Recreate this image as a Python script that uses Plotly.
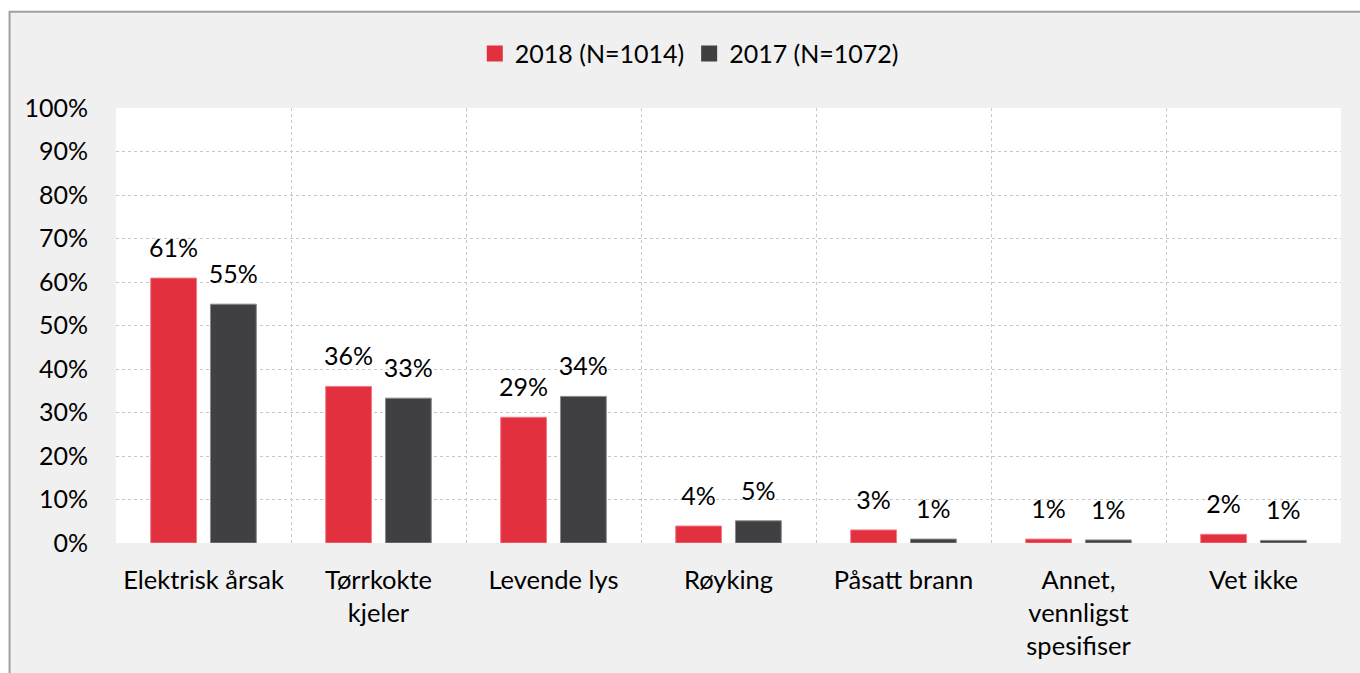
import plotly.graph_objects as go

categories = ["Elektrisk årsak", "Tørrkokte<br>kjeler", "Levende lys", "Røyking",
              "Påsatt brann", "Annet,<br>vennligst<br>spesifiser", "Vet ikke"]
series_names = ["2018 (N=1014)", "2017 (N=1072)"]
values_2018 = [60.9, 36.0, 28.9, 3.9, 3.0, 0.9, 2.0]
values_2017 = [54.9, 33.3, 33.7, 5.1, 0.9, 0.7, 0.6]
y_ticks = list(range(0, 101, 10))
y_tick_labels = [f"{t}%" for t in y_ticks]

RED = "#e3303e"
DARK = "#404042"
FONT = "Lato"
FS = 25

series = [(series_names[0], values_2018, RED, "#ef7c86", "g2018"),
          (series_names[1], values_2017, DARK, "#8a8a8c", "g2017")]

fig = go.Figure()
for name, vals, col, lc, grp in series:
    fig.add_trace(go.Bar(x=categories, y=vals, name=name, offsetgroup=grp,
                         marker=dict(color=col, line=dict(color=lc, width=1)),
                         showlegend=False, hoverinfo="skip"))
for name, vals, col, lc, grp in series:
    fig.add_trace(go.Scatter(x=categories, y=vals, mode="markers+text", offsetgroup=grp,
                             text=[f"{round(v):.0f}%" for v in vals],
                             textposition="top center",
                             textfont=dict(family=FONT, size=FS, color="#000000"),
                             marker=dict(size=22, opacity=0),
                             showlegend=False, hoverinfo="skip", cliponaxis=False))
# legend entries (square swatches)
for name, vals, col, lc, grp in series:
    fig.add_trace(go.Scatter(x=[categories[0]], y=[None], mode="markers", name=name,
                             offsetgroup=grp,
                             marker=dict(symbol="square", size=16, color=col),
                             showlegend=True, hoverinfo="skip"))

fig.update_layout(
    width=1360, height=673,
    margin=dict(l=115.5, r=18.5, t=107.5, b=129.7),
    paper_bgcolor="#ffffff",
    plot_bgcolor="#ffffff",
    barmode="group", bargap=0.317, bargroupgap=0.233,
    scattermode="group", scattergap=0.317,
    font=dict(family=FONT, size=FS, color="#000000"),
    showlegend=True,
    legend=dict(orientation="h", x=0.468, xanchor="center", y=1.125, yanchor="middle",
                font=dict(family=FONT, size=FS, color="#000000"),
                bgcolor="rgba(0,0,0,0)", traceorder="normal", itemsizing="trace"),
    shapes=[
        dict(type="rect", xref="paper", yref="paper", x0=-0.0869, x1=1.05, y0=-0.4, y1=1.2214,
             line=dict(color="#a0a0a0", width=2), fillcolor="#f0f0f0", layer="below"),
        dict(type="rect", xref="paper", yref="paper", x0=0, x1=1, y0=0, y1=1,
             line=dict(width=0), fillcolor="#ffffff", layer="below"),
    ],
)
fig.update_xaxes(type="category", tickson="boundaries", showgrid=True, gridcolor="#c8c8c8",
                 griddash="dot", gridwidth=1, ticks="", showline=False,
                 tickfont=dict(family=FONT, size=25.5, color="#000000"),
                 ticklabelstandoff=19)
fig.update_yaxes(range=[0, 100], tickvals=y_ticks, ticktext=y_tick_labels,
                 showgrid=True, gridcolor="#c8c8c8", griddash="dot", gridwidth=1,
                 zeroline=False, ticks="", showline=False,
                 tickfont=dict(family=FONT, size=FS, color="#000000"),
                 ticklabelstandoff=27)

fig.write_html("out.html", config={"displayModeBar": False},
               post_script="document.body.style.margin='0';document.body.style.overflow='hidden';")
